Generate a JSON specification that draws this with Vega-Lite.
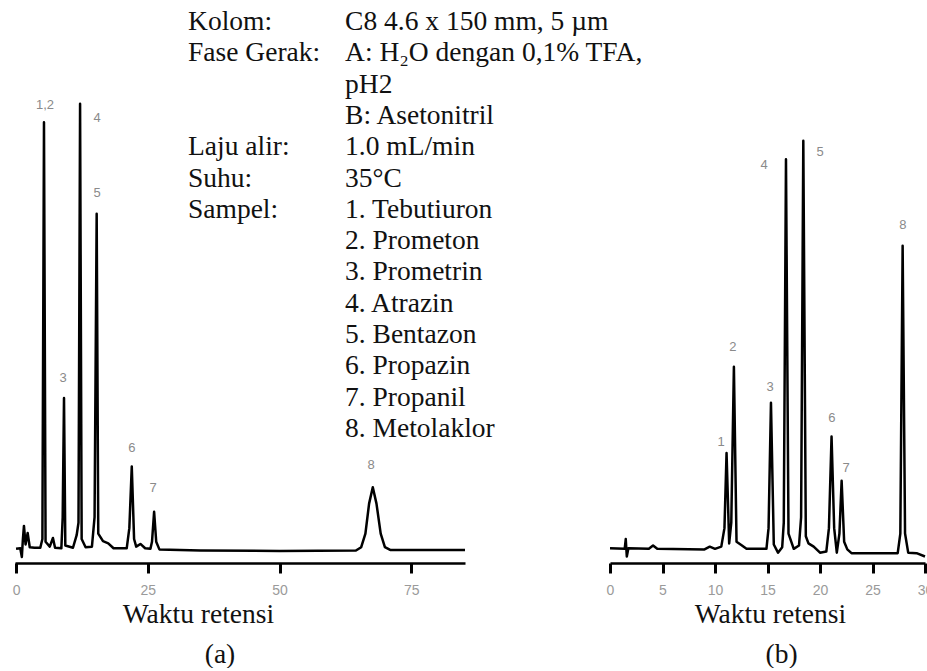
{
  "$schema": "https://vega.github.io/schema/vega-lite/v6.json",
  "background": "white",
  "padding": {"left": 12, "top": 5, "right": 0, "bottom": 0},
  "config": {"view": {"stroke": null}},
  "bounds": "flush",
  "spacing": 145,
  "datasets": {
    "traceA": [
      {"t": 0.0, "h": 0.2}, {"t": 0.8, "h": 0.3}, {"t": 1.1, "h": -1.3}, {"t": 1.3, "h": 2.0},
      {"t": 1.5, "h": 4.4}, {"t": 1.8, "h": 1.0}, {"t": 2.2, "h": 3.1}, {"t": 2.6, "h": 0.5},
      {"t": 3.5, "h": 0.4}, {"t": 4.6, "h": 0.4}, {"t": 5.0, "h": 2.0}, {"t": 5.3, "h": 78.5},
      {"t": 5.6, "h": 1.5}, {"t": 6.4, "h": 0.6}, {"t": 7.0, "h": 2.2}, {"t": 7.4, "h": 0.4},
      {"t": 8.6, "h": 0.3}, {"t": 8.85, "h": 6.0}, {"t": 9.1, "h": 27.9}, {"t": 9.35, "h": 0.8},
      {"t": 10.8, "h": 0.4}, {"t": 11.5, "h": 2.7}, {"t": 11.85, "h": 5.0}, {"t": 12.15, "h": 81.9},
      {"t": 12.45, "h": 2.0}, {"t": 13.2, "h": 0.5}, {"t": 14.4, "h": 0.6}, {"t": 14.9, "h": 6.0},
      {"t": 15.3, "h": 61.7}, {"t": 15.6, "h": 3.0}, {"t": 16.5, "h": 1.6}, {"t": 17.5, "h": 1.2},
      {"t": 18.5, "h": 0.3}, {"t": 21.0, "h": 0.3}, {"t": 21.5, "h": 4.0}, {"t": 21.96, "h": 15.3},
      {"t": 22.4, "h": 2.0}, {"t": 22.8, "h": 0.6}, {"t": 23.6, "h": 1.1}, {"t": 24.5, "h": 0.3},
      {"t": 25.5, "h": 0.2}, {"t": 25.8, "h": 1.5}, {"t": 26.2, "h": 7.0}, {"t": 26.6, "h": 1.5},
      {"t": 27.2, "h": 0.1}, {"t": 35.0, "h": -0.1}, {"t": 50.0, "h": -0.2}, {"t": 64.5, "h": -0.1},
      {"t": 65.5, "h": 0.5}, {"t": 66.3, "h": 3.0}, {"t": 67.0, "h": 8.5}, {"t": 67.7, "h": 11.5},
      {"t": 68.4, "h": 8.5}, {"t": 69.2, "h": 3.0}, {"t": 70.0, "h": 0.5}, {"t": 71.0, "h": 0.0},
      {"t": 85.2, "h": 0.0}
    ],
    "traceB": [
      {"t": 0.0, "h": 0.3}, {"t": 1.4, "h": 0.2}, {"t": 1.5, "h": 2.0}, {"t": 1.6, "h": -1.2},
      {"t": 1.75, "h": 0.3}, {"t": 3.7, "h": 0.2}, {"t": 4.1, "h": 0.8}, {"t": 4.5, "h": 0.2},
      {"t": 9.0, "h": 0.1}, {"t": 9.5, "h": 0.6}, {"t": 10.0, "h": 0.2}, {"t": 10.6, "h": 0.6},
      {"t": 10.9, "h": 4.0}, {"t": 11.1, "h": 17.8}, {"t": 11.35, "h": 1.2}, {"t": 11.55, "h": 5.0},
      {"t": 11.8, "h": 33.6}, {"t": 12.05, "h": 1.5}, {"t": 12.5, "h": 0.9}, {"t": 13.0, "h": 0.2},
      {"t": 14.9, "h": 0.2}, {"t": 15.1, "h": 4.0}, {"t": 15.33, "h": 27.0}, {"t": 15.6, "h": 1.0},
      {"t": 16.0, "h": -0.5}, {"t": 16.4, "h": 0.5}, {"t": 16.55, "h": 5.0}, {"t": 16.76, "h": 71.7},
      {"t": 17.0, "h": 3.0}, {"t": 17.5, "h": 0.2}, {"t": 18.0, "h": 0.8}, {"t": 18.2, "h": 6.0},
      {"t": 18.41, "h": 75.1}, {"t": 18.65, "h": 2.5}, {"t": 18.9, "h": 1.2}, {"t": 19.4, "h": 0.6},
      {"t": 20.0, "h": -0.5}, {"t": 20.6, "h": -0.3}, {"t": 20.85, "h": 4.0}, {"t": 21.1, "h": 20.8},
      {"t": 21.35, "h": 4.0}, {"t": 21.6, "h": -0.5}, {"t": 21.85, "h": 3.0}, {"t": 22.06, "h": 12.7},
      {"t": 22.3, "h": 1.5}, {"t": 22.6, "h": 0.1}, {"t": 23.0, "h": -0.6}, {"t": 27.4, "h": -0.6},
      {"t": 27.65, "h": 3.0}, {"t": 27.87, "h": 55.8}, {"t": 28.1, "h": 3.0}, {"t": 28.4, "h": -0.5},
      {"t": 29.2, "h": -0.6}, {"t": 30.0, "h": -1.2}
    ],
    "labelsA": [
      {"peak": "1,2", "lt": 5.49, "lh": 81.65},
      {"peak": "3", "lt": 8.91, "lh": 31.55},
      {"peak": "4", "lt": 15.36, "lh": 79.26},
      {"peak": "5", "lt": 15.36, "lh": 65.5},
      {"peak": "6", "lt": 22.0, "lh": 18.7},
      {"peak": "7", "lt": 26.0, "lh": 11.36},
      {"peak": "8", "lt": 67.4, "lh": 15.58}
    ],
    "labelsB": [
      {"peak": "1", "lt": 10.57, "lh": 19.8},
      {"peak": "2", "lt": 11.71, "lh": 37.2},
      {"peak": "3", "lt": 15.24, "lh": 29.9},
      {"peak": "4", "lt": 14.67, "lh": 70.6},
      {"peak": "5", "lt": 20.0, "lh": 73.0},
      {"peak": "6", "lt": 21.14, "lh": 24.2},
      {"peak": "7", "lt": 22.48, "lh": 15.0},
      {"peak": "8", "lt": 27.9, "lh": 59.6}
    ],
    "info": [
      {"col": 0, "line": 0, "text": "Kolom:"},
      {"col": 1, "line": 0, "text": "C8 4.6 x 150 mm, 5 µm"},
      {"col": 0, "line": 1, "text": "Fase Gerak:"},
      {"col": 1, "line": 1, "text": "A: H₂O dengan 0,1% TFA,"},
      {"col": 1, "line": 2, "text": "pH2"},
      {"col": 1, "line": 3, "text": "B: Asetonitril"},
      {"col": 0, "line": 4, "text": "Laju alir:"},
      {"col": 1, "line": 4, "text": "1.0 mL/min"},
      {"col": 0, "line": 5, "text": "Suhu:"},
      {"col": 1, "line": 5, "text": "35°C"},
      {"col": 0, "line": 6, "text": "Sampel:"},
      {"col": 1, "line": 6, "text": "1. Tebutiuron"},
      {"col": 1, "line": 7, "text": "2. Prometon"},
      {"col": 1, "line": 8, "text": "3. Prometrin"},
      {"col": 1, "line": 9, "text": "4. Atrazin"},
      {"col": 1, "line": 10, "text": "5. Bentazon"},
      {"col": 1, "line": 11, "text": "6. Propazin"},
      {"col": 1, "line": 12, "text": "7. Propanil"},
      {"col": 1, "line": 13, "text": "8. Metolaklor"}
    ]
  },
  "hconcat": [
    {
      "width": 450,
      "height": 558,
      "title": {
        "text": "(a)", "orient": "bottom", "anchor": "middle", "dx": -20, "offset": 13,
        "font": "Liberation Serif, Times New Roman, serif", "fontSize": 27.5, "fontWeight": "normal", "color": "#111"
      },
      "layer": [
        {
          "layer": [
            {
              "data": {"name": "traceA"},
              "mark": {"type": "line", "color": "#000", "strokeWidth": 2.5, "strokeJoin": "round"},
              "encoding": {
                "x": {
                  "field": "t", "type": "quantitative",
                  "scale": {"domain": [-0.2, 85.2], "nice": false, "zero": false},
                  "axis": {
                    "values": [0, 25, 50, 75], "grid": false, "labelFlush": false,
                    "domainColor": "#000", "domainWidth": 2.5,
                    "tickColor": "#000", "tickWidth": 3, "tickSize": 10,
                    "labelColor": "#9a9a9a", "labelFont": "Liberation Sans Narrow, Liberation Sans, sans-serif",
                    "labelFontSize": 14, "labelPadding": 10,
                    "title": "Waktu retensi", "titleFont": "Liberation Serif, Times New Roman, serif", "titleFontSize": 27.5,
                    "titleFontWeight": "normal", "titleColor": "#111",
                    "titleX": 183, "titleY": 59, "titleBaseline": "alphabetic", "titleAlign": "center"
                  }
                },
                "y": {
                  "field": "h", "type": "quantitative",
                  "scale": {"domain": [-2.4, 100], "nice": false, "zero": false},
                  "axis": null
                }
              }
            },
            {
              "data": {"name": "labelsA"},
              "mark": {"type": "text", "color": "#8a8a8a", "font": "Liberation Sans Narrow, Liberation Sans, sans-serif", "fontSize": 13, "baseline": "middle", "align": "center"},
              "encoding": {
                "x": {"field": "lt", "type": "quantitative"},
                "y": {"field": "lh", "type": "quantitative"},
                "text": {"field": "peak"}
              }
            }
          ]
        },
        {
          "data": {"name": "info"},
          "mark": {"type": "text", "align": "left", "baseline": "alphabetic", "font": "Liberation Serif, Times New Roman, serif", "fontSize": 27.5, "color": "#111"},
          "encoding": {
            "x": {"field": "col", "type": "quantitative", "scale": {"domain": [-1.102, 1.764], "nice": false, "zero": false}, "axis": null},
            "y": {"field": "line", "type": "quantitative", "scale": {"domain": [-0.8, 17.03], "reverse": true, "nice": false, "zero": false}, "axis": null},
            "text": {"field": "text"}
          }
        }
      ],
      "resolve": {"scale": {"x": "independent", "y": "independent"}}
    },
    {
      "width": 315,
      "height": 558,
      "title": {
        "text": "(b)", "orient": "bottom", "anchor": "middle", "dx": 14, "offset": 13,
        "font": "Liberation Serif, Times New Roman, serif", "fontSize": 27.5, "fontWeight": "normal", "color": "#111"
      },
      "layer": [
        {
          "data": {"name": "traceB"},
          "mark": {"type": "line", "color": "#000", "strokeWidth": 2.5, "strokeJoin": "round"},
          "encoding": {
            "x": {
              "field": "t", "type": "quantitative",
              "scale": {"domain": [0, 30], "nice": false, "zero": false},
              "axis": {
                "values": [0, 5, 10, 15, 20, 25, 30], "grid": false, "labelFlush": false,
                "domainColor": "#000", "domainWidth": 2.5,
                "tickColor": "#000", "tickWidth": 3, "tickSize": 10,
                "labelColor": "#9a9a9a", "labelFont": "Liberation Sans Narrow, Liberation Sans, sans-serif",
                "labelFontSize": 14, "labelPadding": 10,
                "title": "Waktu retensi", "titleFont": "Liberation Serif, Times New Roman, serif", "titleFontSize": 27.5,
                "titleFontWeight": "normal", "titleColor": "#111",
                "titleX": 160, "titleY": 59, "titleBaseline": "alphabetic", "titleAlign": "center"
              }
            },
            "y": {
              "field": "h", "type": "quantitative",
              "scale": {"domain": [-2.4, 100], "nice": false, "zero": false},
              "axis": null
            }
          }
        },
        {
          "data": {"name": "labelsB"},
          "mark": {"type": "text", "color": "#8a8a8a", "font": "Liberation Sans Narrow, Liberation Sans, sans-serif", "fontSize": 13, "baseline": "middle", "align": "center"},
          "encoding": {
            "x": {"field": "lt", "type": "quantitative"},
            "y": {"field": "lh", "type": "quantitative"},
            "text": {"field": "peak"}
          }
        }
      ]
    }
  ]
}
